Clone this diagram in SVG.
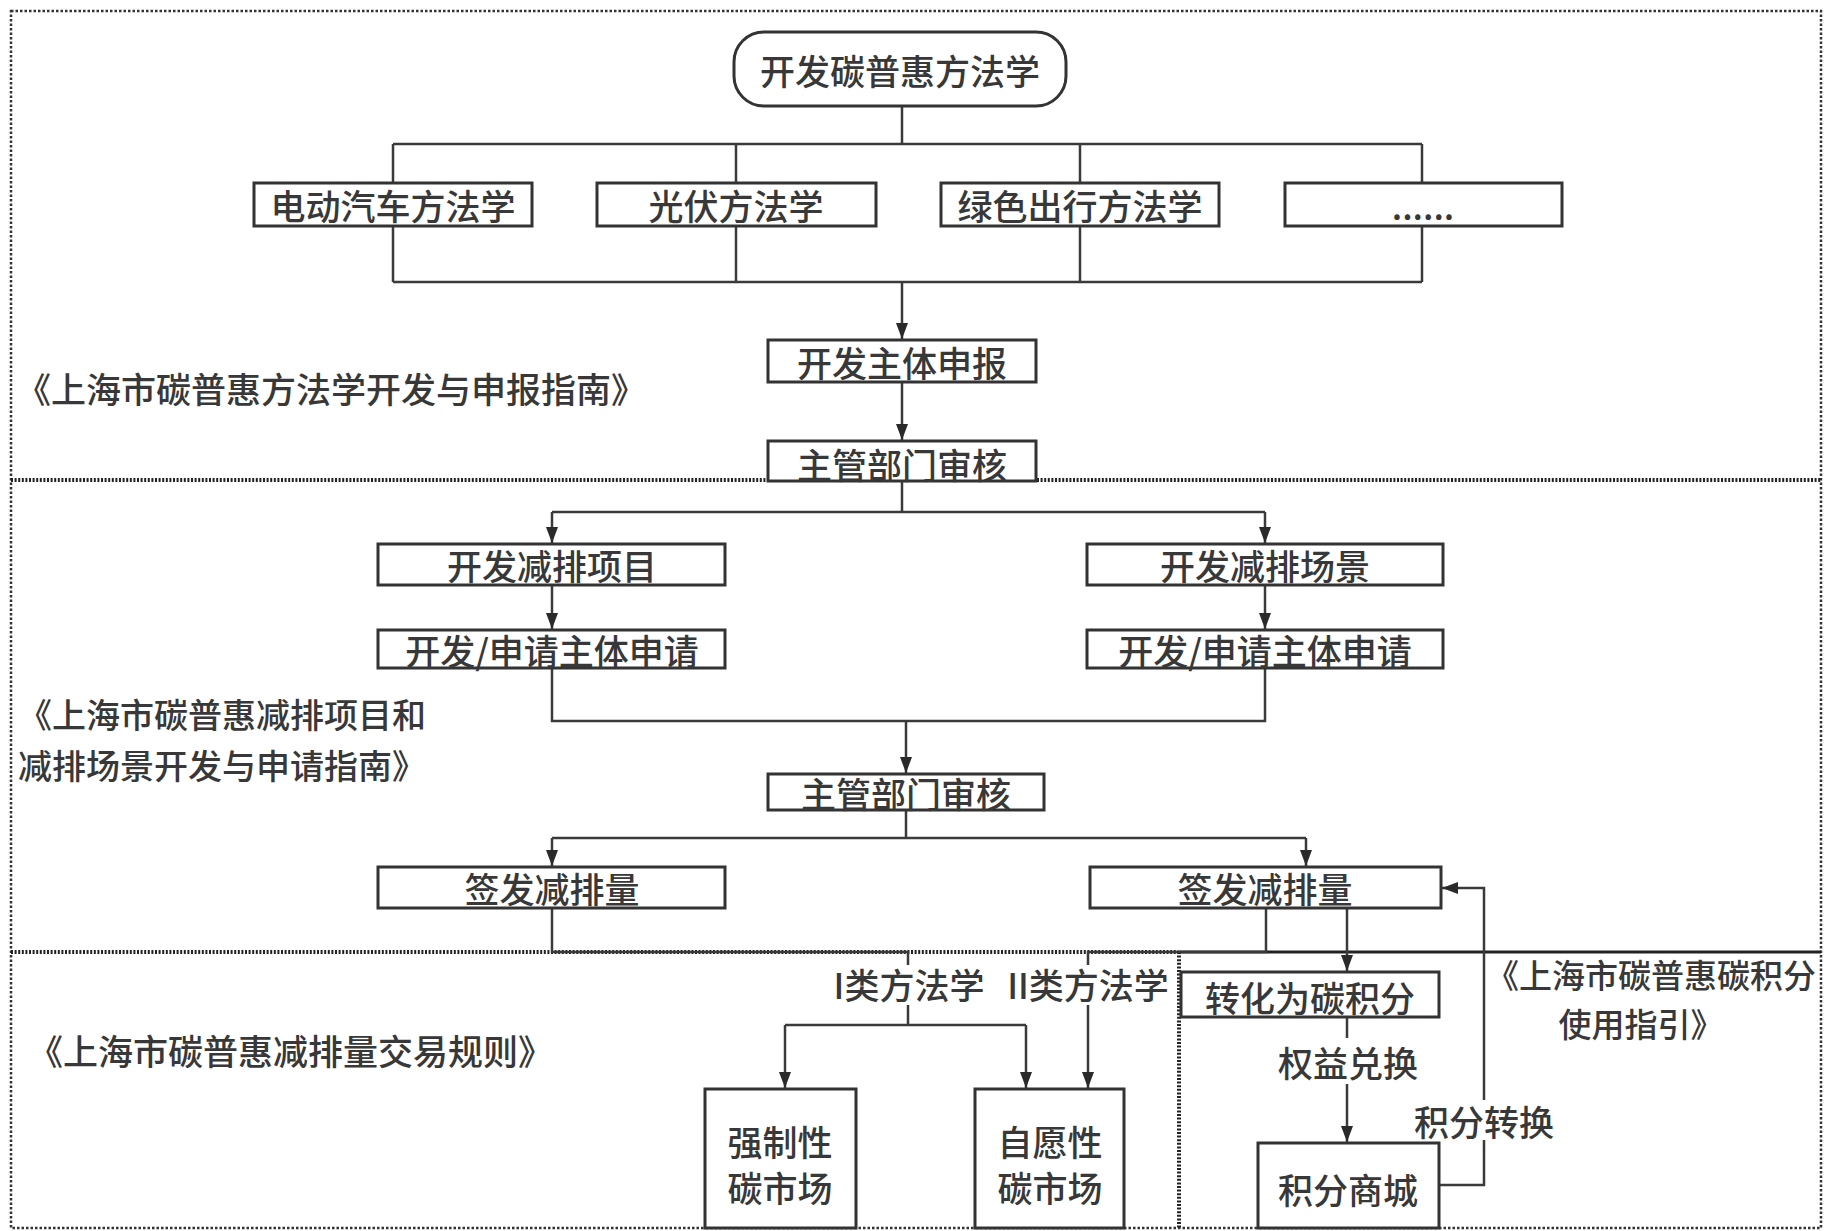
<svg xmlns="http://www.w3.org/2000/svg" width="1829" height="1231" viewBox="0 0 1829 1231">
  <style>
    .bg { fill: #ffffff; }
    .box { fill: #ffffff; stroke: #333333; stroke-width: 3; }
    .t { font-family: "Noto Sans CJK SC", "Noto Sans", sans-serif; font-size: 35px; font-weight: 500; fill: #383838; text-anchor: middle; dominant-baseline: central; }
    .lab { font-family: "Noto Sans CJK SC", "Noto Sans", sans-serif; font-size: 35px; font-weight: 500; fill: #383838; dominant-baseline: central; }
    .ln { fill: none; stroke: #3a3a3a; stroke-width: 2.5; }
    .arr { fill: none; stroke: #3a3a3a; stroke-width: 2.5; marker-end: url(#ah); }
    .border { fill: none; stroke: #333333; stroke-width: 2.5; stroke-dasharray: 2.5 2; }
    .divider { fill: none; stroke: #222222; stroke-width: 4; stroke-dasharray: 2 1.6; }
    .solid { fill: none; stroke: #222222; stroke-width: 3; }
  </style>
  <defs>
    <marker id="ah" viewBox="0 0 16 12" refX="16" refY="6" markerWidth="16" markerHeight="12" markerUnits="userSpaceOnUse" orient="auto">
      <path d="M0,0 L16,6 L0,12 z" fill="#2a2a2a"/>
    </marker>
  </defs>
  <rect class="bg" x="0" y="0" width="1829" height="1231"/>

  <g id="sections">
    <rect class="border" x="11" y="11" width="1810" height="1217"/>
    <line class="divider" x1="11" y1="480" x2="1821" y2="480"/>
    <line class="divider" x1="11" y1="952" x2="1178" y2="952"/>
    <line class="solid" x1="1178" y1="952" x2="1821" y2="952"/>
    <line class="divider" x1="1179" y1="952" x2="1179" y2="1228"/>
  </g>

  <g id="connectors">
    <!-- top tree -->
    <line class="ln" x1="902" y1="106" x2="902" y2="144"/>
    <path class="ln" d="M393,144 H1422 M393,144 V282 M736,144 V282 M1080,144 V282 M1422,144 V282 M393,282 H1422"/>
    <line class="arr" x1="902" y1="282" x2="902" y2="339"/>
    <line class="arr" x1="902" y1="382" x2="902" y2="440"/>
    <!-- middle -->
    <path class="ln" d="M902,481 V512 M552,512 H1265"/>
    <path class="arr" d="M552,512 V543"/>
    <path class="arr" d="M1265,512 V543"/>
    <path class="arr" d="M552,585 V629"/>
    <path class="arr" d="M1265,585 V629"/>
    <path class="ln" d="M552,668 V721 H1265 V668"/>
    <path class="arr" d="M906,721 V773"/>
    <path class="ln" d="M906,810 V838 M552,838 H1306"/>
    <path class="arr" d="M552,838 V866"/>
    <path class="arr" d="M1306,838 V866"/>
    <!-- to methodology classes -->
    <path class="ln" d="M552,908 V952 H908 V965"/>
    <path class="ln" d="M1266,908 V952 H1088 V965"/>
    <path class="ln" d="M908,1005 V1025 M785,1025 H1026"/>
    <path class="arr" d="M785,1025 V1088"/>
    <path class="arr" d="M1026,1025 V1088"/>
    <path class="arr" d="M1088,1005 V1088"/>
    <!-- carbon credits -->
    <path class="arr" d="M1347,908 V971"/>
    <path class="ln" d="M1347,1017 V1038"/>
    <path class="arr" d="M1347,1084 V1142"/>
    <path class="ln" d="M1440,1185 H1484 V1140"/>
    <path class="arr" d="M1484,1100 V888 H1442"/>
  </g>

  <g id="n_top">
    <rect class="box" x="734" y="32" width="332" height="74" rx="30" ry="30"/>
    <text class="t" x="900" y="69">开发碳普惠方法学</text>
  </g>
  <g id="n_ev">
    <rect class="box" x="254" y="183" width="278" height="43"/>
    <text class="t" x="393" y="204">电动汽车方法学</text>
  </g>
  <g id="n_pv">
    <rect class="box" x="597" y="183" width="279" height="43"/>
    <text class="t" x="736" y="204">光伏方法学</text>
  </g>
  <g id="n_green">
    <rect class="box" x="941" y="183" width="278" height="43"/>
    <text class="t" x="1080" y="204">绿色出行方法学</text>
  </g>
  <g id="n_more">
    <rect class="box" x="1285" y="183" width="277" height="43"/>
    <text class="t" x="1423" y="204">......</text>
  </g>
  <g id="n_apply">
    <rect class="box" x="768" y="340" width="268" height="42"/>
    <text class="t" x="902" y="361">开发主体申报</text>
  </g>
  <g id="n_review1">
    <rect class="box" x="768" y="441" width="268" height="40"/>
    <text class="t" x="902" y="463">主管部门审核</text>
  </g>
  <g id="n_proj">
    <rect class="box" x="378" y="544" width="347" height="41"/>
    <text class="t" x="552" y="564">开发减排项目</text>
  </g>
  <g id="n_scene">
    <rect class="box" x="1087" y="544" width="356" height="41"/>
    <text class="t" x="1265" y="564">开发减排场景</text>
  </g>
  <g id="n_projApply">
    <rect class="box" x="378" y="630" width="347" height="38"/>
    <text class="t" x="552" y="649">开发/申请主体申请</text>
  </g>
  <g id="n_sceneApply">
    <rect class="box" x="1087" y="630" width="356" height="38"/>
    <text class="t" x="1265" y="649">开发/申请主体申请</text>
  </g>
  <g id="n_review2">
    <rect class="box" x="768" y="774" width="276" height="36"/>
    <text class="t" x="906" y="792">主管部门审核</text>
  </g>
  <g id="n_issueL">
    <rect class="box" x="378" y="867" width="347" height="41"/>
    <text class="t" x="552" y="887">签发减排量</text>
  </g>
  <g id="n_issueR">
    <rect class="box" x="1090" y="867" width="351" height="41"/>
    <text class="t" x="1265" y="887">签发减排量</text>
  </g>
  <g id="n_mand">
    <rect class="box" x="705" y="1089" width="151" height="139"/>
    <text class="t" x="780" y="1140">强制性</text>
    <text class="t" x="780" y="1186">碳市场</text>
  </g>
  <g id="n_vol">
    <rect class="box" x="975" y="1089" width="149" height="139"/>
    <text class="t" x="1050" y="1140">自愿性</text>
    <text class="t" x="1050" y="1186">碳市场</text>
  </g>
  <g id="n_conv">
    <rect class="box" x="1181" y="972" width="258" height="45"/>
    <text class="t" x="1310" y="996">转化为碳积分</text>
  </g>
  <g id="n_mall">
    <rect class="box" x="1258" y="1143" width="181" height="85"/>
    <text class="t" x="1348" y="1188">积分商城</text>
  </g>

  <g id="labels">
    <text class="t" x="909" y="983">I类方法学</text>
    <text class="t" x="1088" y="983">II类方法学</text>
    <text class="t" x="1348" y="1061">权益兑换</text>
    <text class="t" x="1484" y="1120">积分转换</text>
    <text class="lab" x="16" y="387">《上海市碳普惠方法学开发与申报指南》</text>
    <text class="lab" x="18" y="713" style="font-size:34px">《上海市碳普惠减排项目和</text>
    <text class="lab" x="18" y="764" style="font-size:34px">减排场景开发与申请指南》</text>
    <text class="lab" x="28" y="1049">《上海市碳普惠减排量交易规则》</text>
    <text class="t" x="1651" y="974" style="font-size:33px">《上海市碳普惠碳积分</text>
    <text class="t" x="1641" y="1023" style="font-size:33px">使用指引》</text>
  </g>
</svg>
